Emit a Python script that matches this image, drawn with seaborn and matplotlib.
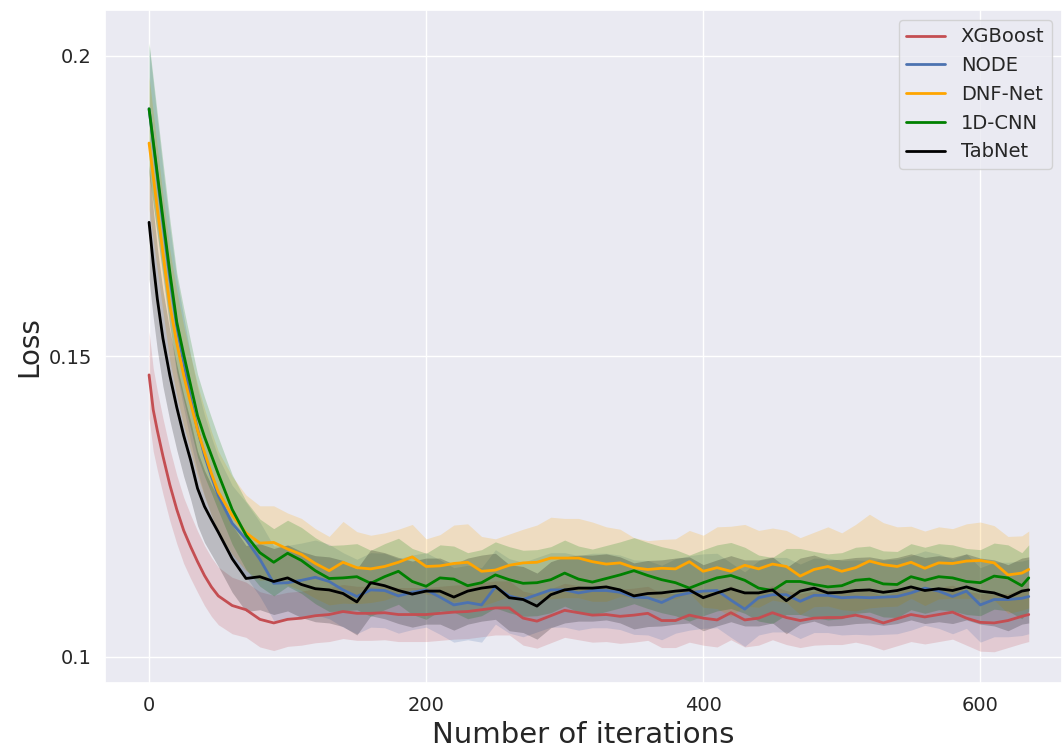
import matplotlib.pyplot as plt
import pandas as pd
import seaborn as sns
from matplotlib.ticker import FuncFormatter

# values (mean loss and half width of the band)
iterations = [0, 3, 6, 10, 15, 20, 25, 30, 35, 40, 45, 50, 60, 70, 80, 90, 100, 110, 120, 130,
              140, 150, 160, 170, 180, 190, 200, 210, 220, 230, 240, 250, 260, 270, 280, 290, 300, 310,
              320, 330, 340, 350, 360, 370, 380, 390, 400, 410, 420, 430, 440, 450, 460, 470, 480,
              490, 500, 510, 520, 530, 540, 550, 560, 570, 580, 590, 600, 610, 620, 630, 635]

xgboost_loss = [0.1469, 0.1411, 0.1376, 0.1334, 0.1286, 0.1245, 0.1210, 0.1183, 0.1158, 0.1135,
                0.1116, 0.1101, 0.1085, 0.1078, 0.1062, 0.1056, 0.1062, 0.1064, 0.1068, 0.1070,
                0.1075, 0.1072, 0.1072, 0.1073, 0.1070, 0.1070, 0.1070, 0.1072, 0.1074, 0.1075,
                0.1078, 0.1081, 0.1081, 0.1064, 0.1059, 0.1068, 0.1077, 0.1073,
                0.1069, 0.1070, 0.1067, 0.1069, 0.1072, 0.1060, 0.1060, 0.1069, 0.1064, 0.1061,
                0.1073, 0.1061, 0.1064, 0.1073, 0.1065, 0.1060, 0.1064,
                0.1065, 0.1065, 0.1069, 0.1064, 0.1056, 0.1063, 0.1070, 0.1066, 0.1070, 0.1074,
                0.1064, 0.1057, 0.1056, 0.1060, 0.1067, 0.1070]

node_loss = [0.1912, 0.1855, 0.1798, 0.1722, 0.1630, 0.1550, 0.1490, 0.1430, 0.1378, 0.1335,
             0.1300, 0.1268, 0.1222, 0.1195, 0.1162, 0.1122, 0.1123, 0.1127, 0.1132, 0.1125,
             0.1111, 0.1100, 0.1111, 0.1110, 0.1101, 0.1107, 0.1111, 0.1099, 0.1086, 0.1090,
             0.1086, 0.1116, 0.1101, 0.1095, 0.1103, 0.1111, 0.1111, 0.1106,
             0.1110, 0.1110, 0.1107, 0.1099, 0.1098, 0.1090, 0.1101, 0.1106, 0.1109, 0.1110,
             0.1094, 0.1079, 0.1098, 0.1103, 0.1103, 0.1092, 0.1102,
             0.1102, 0.1098, 0.1099, 0.1098, 0.1099, 0.1100, 0.1106, 0.1114, 0.1109, 0.1100,
             0.1109, 0.1086, 0.1095, 0.1095, 0.1097, 0.1100]

dnf_loss = [0.1855, 0.1800, 0.1745, 0.1672, 0.1585, 0.1522, 0.1468, 0.1422, 0.1377, 0.1340,
            0.1305, 0.1274, 0.1235, 0.1206, 0.1189, 0.1190, 0.1179, 0.1170, 0.1155, 0.1143,
            0.1157, 0.1148, 0.1146, 0.1150, 0.1157, 0.1166, 0.1150, 0.1151, 0.1155, 0.1157,
            0.1142, 0.1144, 0.1152, 0.1156, 0.1157, 0.1164, 0.1164, 0.1164,
            0.1158, 0.1154, 0.1156, 0.1148, 0.1145, 0.1147, 0.1146, 0.1158, 0.1142, 0.1148,
            0.1142, 0.1152, 0.1146, 0.1154, 0.1150, 0.1134, 0.1145,
            0.1150, 0.1142, 0.1148, 0.1159, 0.1153, 0.1150, 0.1157, 0.1147, 0.1156, 0.1155,
            0.1159, 0.1160, 0.1156, 0.1136, 0.1139, 0.1145]

cnn_loss = [0.1912, 0.1858, 0.1803, 0.1730, 0.1640, 0.1557, 0.1503, 0.1452, 0.1401, 0.1366,
            0.1335, 0.1304, 0.1245, 0.1202, 0.1173, 0.1157, 0.1172, 0.1160, 0.1143, 0.1130,
            0.1131, 0.1133, 0.1122, 0.1133, 0.1142, 0.1125, 0.1117, 0.1131, 0.1129, 0.1118,
            0.1123, 0.1136, 0.1128, 0.1122, 0.1123, 0.1128, 0.1139, 0.1129,
            0.1124, 0.1130, 0.1136, 0.1143, 0.1135, 0.1128, 0.1123, 0.1114, 0.1123, 0.1131,
            0.1135, 0.1127, 0.1114, 0.1110, 0.1125, 0.1125, 0.1120,
            0.1116, 0.1118, 0.1127, 0.1129, 0.1121, 0.1120, 0.1133, 0.1127, 0.1133, 0.1131,
            0.1125, 0.1123, 0.1134, 0.1131, 0.1118, 0.1131]

tabnet_loss = [0.1723, 0.1655, 0.1595, 0.1530, 0.1468, 0.1415, 0.1368, 0.1327, 0.1280, 0.1250,
               0.1228, 0.1207, 0.1163, 0.1130, 0.1133, 0.1125, 0.1131, 0.1120, 0.1113, 0.1111,
               0.1105, 0.1091, 0.1123, 0.1118, 0.1110, 0.1104, 0.1109, 0.1109, 0.1099, 0.1109,
               0.1114, 0.1117, 0.1098, 0.1095, 0.1084, 0.1103, 0.1111, 0.1114,
               0.1114, 0.1116, 0.1111, 0.1101, 0.1105, 0.1106, 0.1109, 0.1111, 0.1098, 0.1106,
               0.1113, 0.1106, 0.1106, 0.1111, 0.1093, 0.1109, 0.1114,
               0.1106, 0.1107, 0.1110, 0.1111, 0.1107, 0.1110, 0.1116, 0.1110, 0.1113, 0.1110,
               0.1116, 0.1109, 0.1106, 0.1098, 0.1109, 0.1111]

xgboost_band = [0.0072, 0.0069, 0.0066, 0.0063, 0.0060, 0.0057, 0.0055, 0.0053, 0.0051, 0.0050,
                0.0049, 0.0048, 0.0047, 0.0046, 0.0046, 0.0046, 0.0045, 0.0045, 0.0045, 0.0045,
                0.0045, 0.0045, 0.0045, 0.0045, 0.0045, 0.0045, 0.0045, 0.0045, 0.0045, 0.0045,
                0.0045, 0.0045, 0.0045, 0.0045, 0.0045, 0.0045, 0.0045, 0.0045,
                0.0045, 0.0045, 0.0045, 0.0045, 0.0045, 0.0045, 0.0045, 0.0045, 0.0045, 0.0045,
                0.0045, 0.0045, 0.0045, 0.0045, 0.0045, 0.0045, 0.0045,
                0.0045, 0.0045, 0.0045, 0.0045, 0.0045, 0.0045, 0.0045, 0.0045, 0.0045, 0.0045,
                0.0045, 0.0048, 0.0048, 0.0045, 0.0045, 0.0045]

node_band = [0.0105, 0.0100, 0.0095, 0.0090, 0.0085, 0.0080, 0.0076, 0.0072, 0.0069, 0.0067,
             0.0065, 0.0064, 0.0063, 0.0062, 0.0062, 0.0062, 0.0062, 0.0062, 0.0062, 0.0062,
             0.0062, 0.0062, 0.0062, 0.0062, 0.0062, 0.0062, 0.0062, 0.0062, 0.0062, 0.0062,
             0.0062, 0.0062, 0.0062, 0.0062, 0.0062, 0.0062, 0.0062, 0.0062,
             0.0062, 0.0062, 0.0062, 0.0062, 0.0062, 0.0062, 0.0062, 0.0062, 0.0062, 0.0062,
             0.0062, 0.0062, 0.0062, 0.0062, 0.0062, 0.0062, 0.0062,
             0.0062, 0.0062, 0.0062, 0.0062, 0.0062, 0.0062, 0.0062, 0.0062, 0.0062, 0.0062,
             0.0062, 0.0062, 0.0062, 0.0062, 0.0062, 0.0062]

dnf_band = [0.0110, 0.0106, 0.0102, 0.0097, 0.0092, 0.0087, 0.0083, 0.0079, 0.0076, 0.0073,
            0.0070, 0.0068, 0.0065, 0.0063, 0.0062, 0.0061, 0.0060, 0.0060, 0.0058, 0.0057,
            0.0068, 0.0060, 0.0056, 0.0056, 0.0055, 0.0054, 0.0046, 0.0052, 0.0064, 0.0064,
            0.0058, 0.0052, 0.0052, 0.0056, 0.0062, 0.0068, 0.0066, 0.0066,
            0.0066, 0.0062, 0.0056, 0.0050, 0.0048, 0.0048, 0.0050, 0.0052, 0.0060, 0.0068,
            0.0075, 0.0068, 0.0064, 0.0060, 0.0060, 0.0064, 0.0062,
            0.0066, 0.0064, 0.0072, 0.0078, 0.0070, 0.0066, 0.0060, 0.0062, 0.0060, 0.0058,
            0.0062, 0.0064, 0.0062, 0.0064, 0.0062, 0.0064]

cnn_band = [0.0110, 0.0105, 0.0100, 0.0094, 0.0088, 0.0082, 0.0077, 0.0073, 0.0069, 0.0066,
            0.0063, 0.0061, 0.0058, 0.0057, 0.0056, 0.0056, 0.0055, 0.0055, 0.0055, 0.0055,
            0.0055, 0.0055, 0.0055, 0.0055, 0.0055, 0.0055, 0.0055, 0.0055, 0.0055, 0.0055,
            0.0055, 0.0055, 0.0055, 0.0055, 0.0055, 0.0055, 0.0055, 0.0055,
            0.0055, 0.0055, 0.0055, 0.0055, 0.0055, 0.0055, 0.0055, 0.0055, 0.0055, 0.0055,
            0.0055, 0.0055, 0.0055, 0.0055, 0.0055, 0.0055, 0.0055,
            0.0055, 0.0055, 0.0055, 0.0055, 0.0055, 0.0055, 0.0055, 0.0055, 0.0055, 0.0055,
            0.0055, 0.0055, 0.0055, 0.0055, 0.0055, 0.0055]

tabnet_band = [0.0095, 0.0090, 0.0085, 0.0080, 0.0075, 0.0071, 0.0068, 0.0065, 0.0062, 0.0060,
               0.0058, 0.0057, 0.0056, 0.0055, 0.0055, 0.0055, 0.0055, 0.0055, 0.0055, 0.0055,
               0.0055, 0.0055, 0.0055, 0.0055, 0.0055, 0.0055, 0.0055, 0.0055, 0.0055, 0.0055,
               0.0055, 0.0055, 0.0055, 0.0055, 0.0055, 0.0055, 0.0055, 0.0055,
               0.0055, 0.0055, 0.0055, 0.0055, 0.0055, 0.0055, 0.0055, 0.0055, 0.0055, 0.0055,
               0.0055, 0.0055, 0.0055, 0.0055, 0.0055, 0.0055, 0.0055,
               0.0055, 0.0055, 0.0055, 0.0055, 0.0055, 0.0055, 0.0055, 0.0055, 0.0055, 0.0055,
               0.0055, 0.0055, 0.0055, 0.0055, 0.0055, 0.0055]

models = ["XGBoost", "NODE", "DNF-Net", "1D-CNN", "TabNet"]
colors = ["#c44e52", "#4c72b0", "orange", "green", "black"]
losses = [xgboost_loss, node_loss, dnf_loss, cnn_loss, tabnet_loss]
bands = [xgboost_band, node_band, dnf_band, cnn_band, tabnet_band]

frames = []
for name, loss, band in zip(models, losses, bands):
    frames.append(pd.DataFrame({"iteration": iterations, "loss": loss, "band": band, "model": name}))
df = pd.concat(frames, ignore_index=True)
df["low"] = df["loss"] - df["band"]
df["high"] = df["loss"] + df["band"]

sns.set_theme(style="darkgrid")
fig = plt.figure(figsize=(10.62, 7.53), dpi=100)
ax = fig.add_axes([105 / 1062, 70 / 753, 957 / 1062, 673 / 753])

palette = dict(zip(models, colors))
for name in models:
    sub = df[df["model"] == name]
    ax.fill_between(sub["iteration"], sub["low"], sub["high"],
                    color=palette[name], alpha=0.2, linewidth=0)

sns.lineplot(data=df, x="iteration", y="loss", hue="model", hue_order=models,
             palette=palette, linewidth=2, ax=ax)

ax.set_xlim(-31.8, 659)
ax.set_ylim(0.0956, 0.20765)
ax.set_xticks([0, 200, 400, 600])
ax.set_yticks([0.1, 0.15, 0.2])
ax.yaxis.set_major_formatter(FuncFormatter(lambda v, p: f"{v:g}"))
ax.tick_params(labelsize=14)
ax.set_xlabel("Number of iterations", fontsize=21)
ax.set_ylabel("Loss", fontsize=20)

ax.legend(loc="upper right", fontsize=14, title=None)

fig.savefig("out.png", dpi=100)
